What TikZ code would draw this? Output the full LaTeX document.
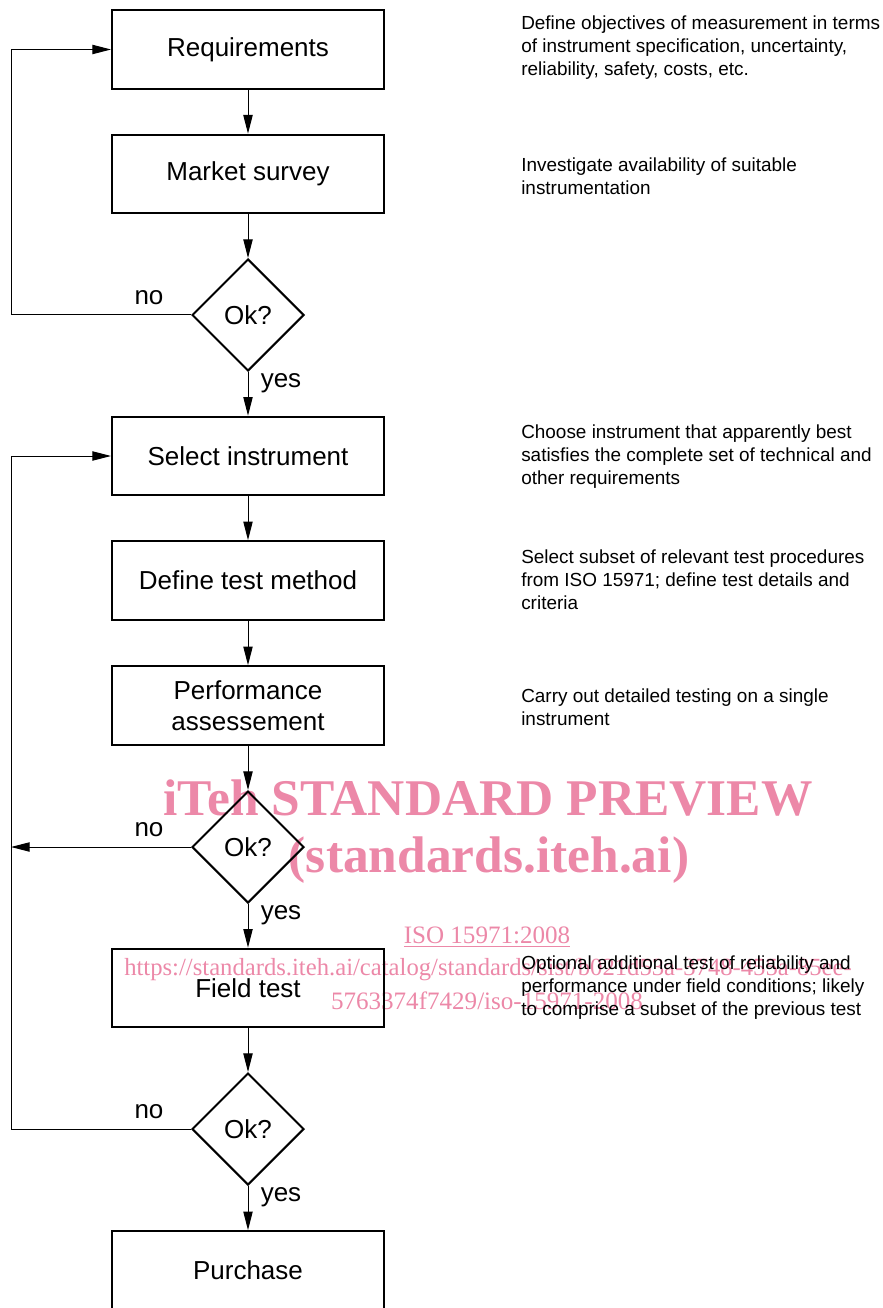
\documentclass[tikz,border=0pt]{standalone}
\usepackage{fontspec}
\setmainfont{Liberation Sans}
\newfontfamily\wmfont{Liberation Serif}
\usetikzlibrary{shapes.geometric,arrows.meta}

\definecolor{wmpink}{RGB}{236,136,168}

\begin{document}
\begin{tikzpicture}[
	x=0.75pt,
	y=-0.75pt,
	process/.style={
		rectangle,
		draw=black,
		line width=1.5pt,
		align=center,
		minimum height=59pt,
		minimum width=204pt,
		font=\fontsize{19.5}{23}\selectfont
	},
	decision/.style={
		diamond,
		draw=black,
		line width=1.5pt,
		inner sep=0pt,
		minimum size=84pt,
		font=\fontsize{19.5}{23}\selectfont
	},
	note/.style={
		anchor=west,
		align=left,
		inner sep=0pt,
		font=\fontsize{14.2}{17.25}\selectfont
	},
	answer/.style={
		inner sep=0pt,
		font=\fontsize{19.5}{23}\selectfont
	},
	flow/.style={
		line width=0.75pt,
		-{Triangle[length=14pt,width=7pt]}
	},
	watermark/.style={
		inner sep=0pt,
		text=wmpink
	},
]

\useasboundingbox (0,0) rectangle (882,1308);

% Watermark
\node[watermark, font=\wmfont\bfseries\fontsize{38.6}{40}\selectfont] (wm1) at (488,798) {iTeh STANDARD PREVIEW};
\node[watermark, font=\wmfont\bfseries\fontsize{38.6}{40}\selectfont] (wm2) at (489,860) {(standards.iteh.ai)};
\node[watermark, font=\wmfont\fontsize{18.8}{20}\selectfont] (wm3) at (487,937) {\underline{ISO 15971:2008}};
\node[watermark, font=\wmfont\fontsize{18.5}{20}\selectfont] (wm4) at (488,970) {https://standards.iteh.ai/catalog/standards/sist/b021d53a-3748-455a-85ee-};
\node[watermark, font=\wmfont\fontsize{18.8}{20}\selectfont] (wm5) at (487,1001) {5763374f7429/iso-15971-2008};

% Steps
\node[process] (req) at (248,49.5) {Requirements};
\node[process] (mkt) at (248,174) {Market survey};
\node[decision] (ok1) at (248,315) {Ok?};
\node[process] (sel) at (248,456) {Select instrument};
\node[process] (def) at (248,580.5) {Define test method};
\node[process] (perf) at (248,705.5) {Performance\\assessement};
\node[decision] (ok2) at (248,847) {Ok?};
\node[process] (field) at (248,988) {Field test};
\node[decision] (ok3) at (248,1129) {Ok?};
\node[process] (pur) at (248,1270.5) {Purchase};

% Left rail
\coordinate (rail) at (11,0);

% Connectors
\draw[flow] (req.south) -- (mkt.north);
\draw[flow] (mkt.south) -- (ok1.north);
\draw[flow] (ok1.south) -- (sel.north);
\draw[flow] (sel.south) -- (def.north);
\draw[flow] (def.south) -- (perf.north);
\draw[flow] (perf.south) -- (ok2.north);
\draw[flow] (ok2.south) -- (field.north);
\draw[flow] (field.south) -- (ok3.north);
\draw[flow] (ok3.south) -- (pur.north);

\draw[flow] (ok1.west) -- (ok1.west -| rail) |- (req.west);
\draw[flow] (ok2.west) -- (ok2.west -| rail);
\draw[flow] (ok3.west) -- (ok3.west -| rail) |- (sel.west);

% Answers
\node[answer] (no1) at (149,298) {no};
\node[answer] (yes1) at (281,383) {yes};
\node[answer] (no2) at (149,830) {no};
\node[answer] (yes2) at (281,915) {yes};
\node[answer] (no3) at (149,1112) {no};
\node[answer] (yes3) at (281,1197) {yes};

% Notes
\node[note] (n1) at (521,48) {Define objectives of measurement in terms\\of instrument specification, uncertainty,\\reliability, safety, costs, etc.};
\node[note] (n2) at (521,176.5) {Investigate availability of suitable\\instrumentation};
\node[note] (n3) at (521,457) {Choose instrument that apparently best\\satisfies the complete set of technical and\\other requirements};
\node[note] (n4) at (521,580) {Select subset of relevant test procedures\\from ISO 15971; define test details and\\criteria};
\node[note] (n5) at (521,707) {Carry out detailed testing on a single\\instrument};
\node[note] (n6) at (521,988) {Optional additional test of reliability and\\performance under field conditions; likely\\to comprise a subset of the previous test};

\end{tikzpicture}
\end{document}
